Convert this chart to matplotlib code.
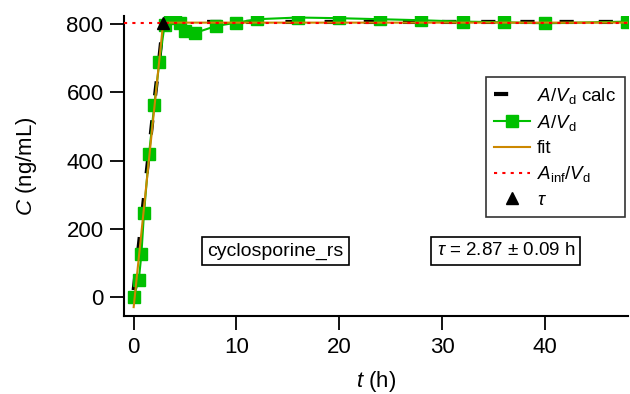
import matplotlib.pyplot as plt
import numpy as np

plt.rcParams['font.family'] = ['Liberation Sans', 'DejaVu Sans']
plt.rcParams['mathtext.fontset'] = 'custom'
plt.rcParams['mathtext.rm'] = 'Liberation Sans'
plt.rcParams['mathtext.it'] = 'Liberation Sans:italic'

# measured concentration A/Vd
t_obs = [0, 0.5, 0.75, 1, 1.5, 2, 2.5, 3, 3.5, 4, 4.5, 5, 6, 8, 10, 12, 16, 20, 24, 28, 32, 36, 40, 48]
c_obs = [0, 50, 125, 245, 420, 562, 690, 797, 818, 822, 805, 780, 775, 795, 805, 815, 820, 818, 815, 812, 808, 806, 803, 808]

# calculated A/Vd
t_calc = [0, 0.5, 1, 1.5, 2, 2.5, 2.87, 4, 6, 8, 12, 16, 20, 24, 32, 40, 48]
c_calc = [20, 150, 290, 430, 570, 700, 806, 807, 807, 807, 807, 807, 807, 807, 807, 807, 807]

# piecewise linear fit
t_fit = [0, 2.87, 48]
c_fit = [-30, 805, 805]

a_inf = 805
tau = 2.87
tau_err = 0.09

fig = plt.figure(figsize=(6.3, 3.94), dpi=100)
ax = fig.add_axes([0.1975, 0.198, 0.7995, 0.761])

ax.plot(t_calc, c_calc, color='black', lw=3, ls=(0, (3.4, 6)), label=r'$A/V_\mathrm{d}$ calc', zorder=2)
ax.plot(t_obs, c_obs, color='#00c000', lw=1.5, marker='s', ms=9, mec='#00c000',
        label=r'$A/V_\mathrm{d}$', zorder=3)
ax.plot(t_fit, c_fit, color='#cc8800', lw=1.5, label='fit', zorder=4)
ax.axhline(a_inf, color='red', ls=(0, (1.5, 2.5)), lw=1.5, label=r'$A_\mathrm{inf}/V_\mathrm{d}$', zorder=5)
ax.plot([tau], [a_inf], ls='none', marker='^', ms=9, color='black', label=r'$\tau$', zorder=6)

ax.set_xlim(-0.9, 48.1)
ax.set_ylim(-56, 824)
ax.set_xticks([0, 10, 20, 30, 40])
ax.set_yticks([0, 200, 400, 600, 800])
for s in ['top', 'right']:
    ax.spines[s].set_visible(False)
for s in ['left', 'bottom']:
    ax.spines[s].set_linewidth(1.5)
ax.tick_params(direction='out', length=10, width=1.3, labelsize=16, pad=5)
ax.set_xlabel(r'$t$ (h)', fontsize=16, labelpad=8)
ax.set_ylabel(r'$C$ (ng/mL)', fontsize=16, labelpad=20)

leg = ax.legend(loc='upper right', bbox_to_anchor=(0.993, 0.796), borderaxespad=0, fontsize=13.5,
                frameon=True, fancybox=False, handlelength=1.9, borderpad=0.45, labelspacing=0.38,
                handletextpad=0.4)
leg.get_frame().set_edgecolor('black')
leg.get_frame().set_linewidth(1.2)

box = dict(boxstyle='square,pad=0.28', fc='white', ec='black', lw=1.2)
ax.text(13.8, 135, 'cyclosporine_rs', fontsize=14, ha='center', va='center', bbox=box)
ax.text(36.2, 135, r'$\tau$ = %.2f ± %.2f h' % (tau, tau_err), fontsize=13.5, ha='center', va='center', bbox=box)

fig.savefig('out.png', dpi=100)
